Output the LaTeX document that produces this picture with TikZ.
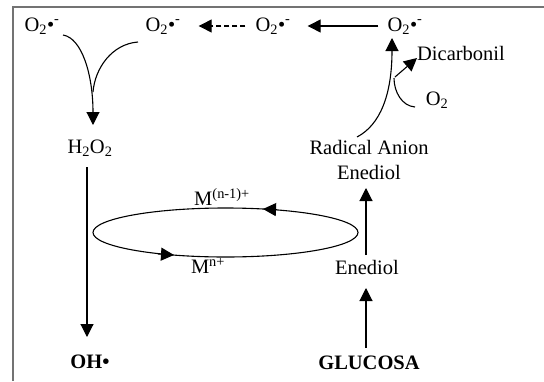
\documentclass[tikz,border=0pt]{standalone}
\usepackage{fontspec}
\setmainfont{Liberation Serif}
\usetikzlibrary{arrows.meta}
\begin{document}
\begin{tikzpicture}[x=1pt,y=-1pt,
  lbl/.style={inner sep=0pt,font=\fontsize{20.5}{25}\selectfont},
  ln/.style={line width=1.1pt,black},
  arr/.style={ln,-{Triangle[length=13pt,width=13pt]}},
  frame/.style={line width=2pt,color=black!55}]
\useasboundingbox (0,0) rectangle (544,381);
\draw[frame] (13,381) -- (13,7) -- (544,7);
% nodes
\newcommand{\supox}{O\textsubscript{2}\textbullet\textsuperscript{-}}
\node[lbl] (o1) at (42,26) {\supox};
\node[lbl] (o2) at (163,26) {\supox};
\node[lbl] (o3) at (273,26) {\supox};
\node[lbl] (o4) at (405,26) {\supox};
\node[lbl] (dic) at (461,53) {Dicarbonil};
\node[lbl] (o2b) at (437,100) {O\textsubscript{2}};
\node[lbl,align=center] (rad) at (369,160) {Radical Anion\\Enediol};
\node[lbl] (h2o2) at (90,148) {H\textsubscript{2}O\textsubscript{2}};
\node[lbl] (oh) at (90,362) {\textbf{OH\textbullet}};
\node[lbl] (ened) at (367,267) {Enediol};
\node[lbl] (glu) at (369,363) {\textbf{GLUCOSA}};
\node[lbl] (mtop) at (222,197) {M\textsuperscript{(n-1)+}};
\node[lbl] (mbot) at (208,266) {M\textsuperscript{n+}};
% coordinates
\coordinate (c1s) at (63,35);
\coordinate (c1e) at (93,125);
\coordinate (c2s) at (138,42);
\coordinate (c2e) at (93,92);
\coordinate (m1s) at (357,137);
\coordinate (m1e) at (392,38);
\coordinate (bs) at (395,77);
\coordinate (be) at (417,58);
\coordinate (os) at (415,107);
\coordinate (oe) at (394,78);
\coordinate (ell) at (225.5,232.5);
% top row arrows
\draw[arr] ([xshift=-9pt]o4.west) -- ([xshift=17pt]o3.east);
\draw[arr,dash pattern=on 5pt off 3pt] ([xshift=-10pt]o3.west) -- ([xshift=18pt]o2.east);
% left merge
\draw[arr] (c1s) .. controls (82,38) and (93,75) .. (c1e);
\draw[ln] (c2s) .. controls (112,44) and (95,68) .. (c2e);
% right branch
\draw[arr] (m1s) .. controls (380,125) and (392,95) .. (m1e);
\draw[arr] (bs) -- (be);
\draw[ln] (os) .. controls (402,106) and (394,92) .. (oe);
% verticals
\draw[arr] (87,167) -- (87,337);
\draw[arr] (366,348) -- (366,288);
\draw[arr] (366,255) -- (366,188);
% ellipse cycle
\draw[ln] (ell) ellipse [x radius=132.5, y radius=24.5];
\draw[arr] (277,209.6) -- (263,209.0);
\draw[arr] (158,254.0) -- (174,255.0);
\end{tikzpicture}
\end{document}
